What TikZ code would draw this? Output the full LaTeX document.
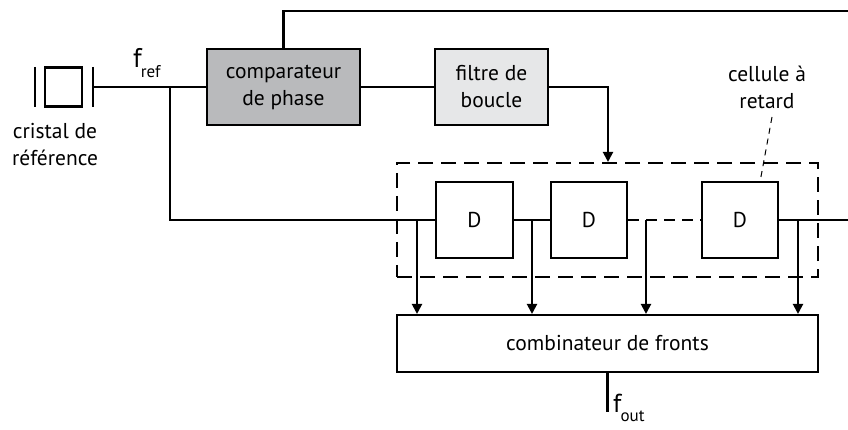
\documentclass[tikz,border=0pt]{standalone}
\usepackage{fontspec}
\setmainfont{PT Sans}
\usetikzlibrary{arrows.meta}
\tikzset{
  wire/.style={line width=2.1pt, line cap=rect},
  arr/.style={line width=2.1pt, -{Triangle[length=10pt,width=10pt]}},
  blk/.style={draw, line width=2.1pt, inner sep=0pt, align=center,
     font=\fontsize{21.5}{27}\selectfont},
  lbl/.style={inner sep=0pt, align=center, font=\fontsize{21.5}{27}\selectfont},
  bigdash/.style={draw, line width=2.1pt, dash pattern=on 15pt off 8pt},
  smalldash/.style={line width=2.1pt, dash pattern=on 11pt off 7pt},
  leader/.style={line width=1pt, dash pattern=on 6pt off 5pt},
}
\definecolor{cmpgray}{RGB}{185,186,188}
\definecolor{filgray}{RGB}{230,231,232}
\begin{document}
\begin{tikzpicture}[x=1pt,y=-1pt]
\useasboundingbox (0,0) rectangle (848,430);
% crystal
\node[draw, line width=2.1pt, minimum width=37pt, minimum height=39pt, inner sep=0pt] (xtal) at (63.5,87) {};
\coordinate (barLt) at (35,67); \coordinate (barLb) at (35,107);
\coordinate (barRt) at (93,67); \coordinate (barRb) at (93,107);
\draw[wire, line cap=butt] (barLt) -- (barLb);
\draw[wire, line cap=butt] (barRt) -- (barRb);
\coordinate (barR) at (93,87);
\node[lbl] (xlabel) at (55,145) {cristal de\\référence};
% blocks
\node[blk, fill=cmpgray, minimum width=153pt, minimum height=76pt] (cmp) at (283.5,87) {comparateur\\de phase};
\node[blk, fill=filgray, minimum width=113pt, minimum height=76pt] (fil) at (491.5,87) {filtre de\\boucle};
\node[bigdash, minimum width=421pt, minimum height=114pt, inner sep=0pt] (cell) at (607.5,220) {};
\node[blk, minimum width=77pt, minimum height=76pt] (d1) at (474.5,220) {D};
\node[blk, minimum width=76pt, minimum height=76pt] (d2) at (589,220) {D};
\node[blk, minimum width=76pt, minimum height=76pt] (d3) at (740,220) {D};
\node[blk, minimum width=421pt, minimum height=57pt] (comb) at (607.5,343.5) {combinateur de fronts};
% labels
\node[inner sep=0pt, anchor=base west] (fref) at (133,68)
  {\fontsize{27}{27}\selectfont f\hspace{-1pt}\raisebox{-10pt}{\fontsize{17}{17}\selectfont ref}};
\node[inner sep=0pt, anchor=base west] (fout) at (613,412)
  {\fontsize{26}{26}\selectfont f\hspace{-1pt}\raisebox{-9pt}{\fontsize{17}{17}\selectfont out}};
\node[lbl] (clabel) at (767,87) {cellule à\\retard};
% coordinates
\coordinate (j) at (170,87);
\coordinate (topR) at (848,11);
\coordinate (fcorner) at (608,87);
\coordinate (d3out) at (848,220);
\coordinate (t1) at (417,220);
\coordinate (t2) at (532,220);
\coordinate (t3) at (646,220);
\coordinate (t4) at (798,220);
\coordinate (outEnd) at (607.5,412);
\coordinate (leadTop) at (772,117);
\coordinate (leadBot) at (760,182);
% connectors
\draw[wire] (barR) -- (cmp.west);
\draw[wire] (j) |- (d1.west);
\draw[wire] (cmp.north) |- (topR);
\draw[wire] (cmp.east) -- (fil.west);
\draw[arr] (fil.east) -| (fcorner |- cell.north);
\draw[wire] (d1.east) -- (d2.west);
\draw[smalldash] (d2.east) -- (d3.west);
\draw[wire] (d3.east) -- (d3out);
\draw[arr] (t1) -- (t1 |- comb.north);
\draw[arr] (t2) -- (t2 |- comb.north);
\draw[arr] (t3) -- (t3 |- comb.north);
\draw[arr] (t4) -- (t4 |- comb.north);
\draw[wire, line cap=butt] (comb.south) -- (outEnd);
\draw[leader] (leadTop) -- (leadBot);
\end{tikzpicture}
\end{document}
